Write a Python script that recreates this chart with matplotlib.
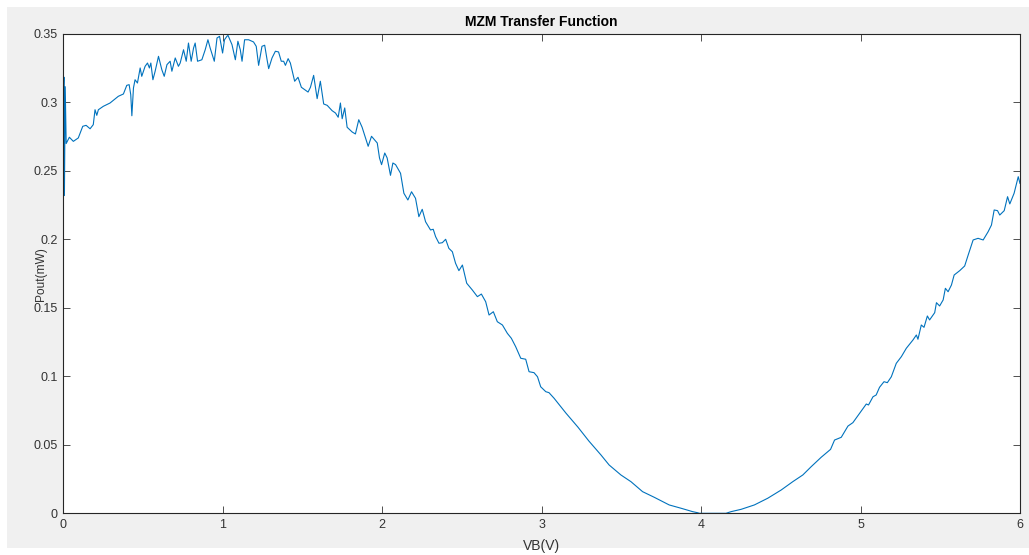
import matplotlib
matplotlib.use("Agg")
import matplotlib.pyplot as plt
from matplotlib.patches import Rectangle

# --- Measured MZM transfer curve: bias voltage (V) vs optical output (mW) ---
vb = [
    0.000, 0.004, 0.007, 0.012, 0.018, 0.025, 0.038, 0.063, 0.094, 0.122,
    0.143, 0.168, 0.188, 0.199, 0.210, 0.220, 0.251, 0.293, 0.345, 0.377,
    0.398, 0.413, 0.423, 0.430, 0.440, 0.450, 0.465, 0.482, 0.492, 0.513,
    0.528, 0.540, 0.549, 0.562, 0.576, 0.597, 0.618, 0.633, 0.650, 0.670,
    0.681, 0.702, 0.722, 0.733, 0.754, 0.771, 0.785, 0.802, 0.817, 0.827,
    0.842, 0.869, 0.890, 0.907, 0.921, 0.947, 0.964, 0.980, 0.999, 1.011,
    1.026, 1.033, 1.058, 1.079, 1.095, 1.110, 1.121, 1.137, 1.162, 1.193,
    1.210, 1.225, 1.246, 1.263, 1.278, 1.288, 1.309, 1.330, 1.350, 1.367,
    1.382, 1.393, 1.410, 1.424, 1.451, 1.472, 1.493, 1.535, 1.550, 1.570,
    1.592, 1.612, 1.633, 1.655, 1.686, 1.707, 1.724, 1.738, 1.749, 1.765,
    1.780, 1.812, 1.832, 1.853, 1.874, 1.895, 1.912, 1.933, 1.969, 1.983,
    1.996, 2.016, 2.031, 2.052, 2.067, 2.084, 2.115, 2.136, 2.161, 2.184,
    2.209, 2.230, 2.251, 2.272, 2.303, 2.320, 2.335, 2.356, 2.377, 2.398,
    2.418, 2.440, 2.460, 2.481, 2.503, 2.530, 2.565, 2.597, 2.622, 2.649,
    2.670, 2.697, 2.722, 2.754, 2.785, 2.810, 2.837, 2.869, 2.900, 2.921,
    2.952, 2.974, 2.994, 3.026, 3.046, 3.078, 3.152, 3.227, 3.296, 3.372,
    3.423, 3.497, 3.560, 3.633, 3.706, 3.800, 3.874, 3.947, 3.979, 3.989,
    4.156, 4.188, 4.251, 4.334, 4.418, 4.502, 4.575, 4.638, 4.690, 4.753,
    4.812, 4.837, 4.879, 4.921, 4.952, 4.994, 5.036, 5.050, 5.078, 5.098,
    5.119, 5.147, 5.168, 5.193, 5.224, 5.256, 5.287, 5.329, 5.350, 5.360,
    5.381, 5.398, 5.419, 5.433, 5.465, 5.476, 5.496, 5.518, 5.532, 5.549,
    5.570, 5.587, 5.622, 5.653, 5.675, 5.706, 5.737, 5.769, 5.800, 5.821,
    5.838, 5.859, 5.873, 5.901, 5.922, 5.936, 5.963, 5.989, 6.000,
]
pout = [
    0.3000, 0.3185, 0.2320, 0.3115, 0.2700, 0.2716, 0.2746, 0.2716, 0.2741, 0.2826,
    0.2833, 0.2808, 0.2838, 0.2947, 0.2906, 0.2947, 0.2972, 0.2996, 0.3045, 0.3062,
    0.3125, 0.3130, 0.3057, 0.2903, 0.3106, 0.3166, 0.3142, 0.3252, 0.3191, 0.3264,
    0.3288, 0.3252, 0.3288, 0.3166, 0.3228, 0.3337, 0.3239, 0.3191, 0.3276, 0.3301,
    0.3228, 0.3325, 0.3264, 0.3288, 0.3385, 0.3301, 0.3434, 0.3301, 0.3398, 0.3434,
    0.3301, 0.3312, 0.3385, 0.3458, 0.3398, 0.3301, 0.3471, 0.3483, 0.3361, 0.3458,
    0.3483, 0.3490, 0.3422, 0.3312, 0.3447, 0.3385, 0.3301, 0.3458, 0.3458, 0.3442,
    0.3410, 0.3271, 0.3410, 0.3418, 0.3312, 0.3247, 0.3325, 0.3374, 0.3369, 0.3301,
    0.3301, 0.3271, 0.3320, 0.3288, 0.3155, 0.3184, 0.3111, 0.3076, 0.3111, 0.3198,
    0.3028, 0.3155, 0.2989, 0.2979, 0.2940, 0.2923, 0.2892, 0.2996, 0.2881, 0.2960,
    0.2819, 0.2784, 0.2770, 0.2874, 0.2819, 0.2741, 0.2680, 0.2753, 0.2704, 0.2595,
    0.2546, 0.2631, 0.2595, 0.2468, 0.2558, 0.2546, 0.2483, 0.2337, 0.2288, 0.2348,
    0.2300, 0.2166, 0.2220, 0.2129, 0.2069, 0.2074, 0.2020, 0.1972, 0.1976, 0.2001,
    0.1935, 0.1910, 0.1826, 0.1772, 0.1813, 0.1680, 0.1631, 0.1582, 0.1601, 0.1545,
    0.1448, 0.1472, 0.1399, 0.1375, 0.1314, 0.1278, 0.1217, 0.1132, 0.1125, 0.1034,
    0.1027, 0.0997, 0.0924, 0.0888, 0.0881, 0.0840, 0.0732, 0.0630, 0.0528, 0.0426,
    0.0353, 0.0280, 0.0231, 0.0158, 0.0117, 0.0061, 0.0037, 0.0012, 0.0004, 0.0000,
    0.0000, 0.0012, 0.0029, 0.0061, 0.0110, 0.0170, 0.0231, 0.0280, 0.0340, 0.0409,
    0.0467, 0.0535, 0.0555, 0.0637, 0.0662, 0.0730, 0.0798, 0.0791, 0.0851, 0.0864,
    0.0920, 0.0961, 0.0954, 0.0997, 0.1095, 0.1144, 0.1205, 0.1266, 0.1302, 0.1271,
    0.1375, 0.1358, 0.1441, 0.1412, 0.1465, 0.1538, 0.1514, 0.1558, 0.1643, 0.1618,
    0.1667, 0.1740, 0.1772, 0.1806, 0.1886, 0.1996, 0.2008, 0.1996, 0.2056, 0.2105,
    0.2215, 0.2210, 0.2178, 0.2210, 0.2312, 0.2259, 0.2337, 0.2458, 0.2409,
]

x_ticks = [0, 1, 2, 3, 4, 5, 6]
y_ticks = [0, 0.05, 0.1, 0.15, 0.2, 0.25, 0.3, 0.35]
y_tick_labels = ['0', '0.05', '0.1', '0.15', '0.2', '0.25', '0.3', '0.35']

plt.rcParams['font.family'] = ['Liberation Sans', 'DejaVu Sans']

fig = plt.figure(figsize=(10.29, 5.55), dpi=100, facecolor='white')
# grey window background with a thin white margin
fig.patches.append(Rectangle((7 / 1029, 7 / 555), 1 - 7 / 1029, 1 - 14 / 555,
                             transform=fig.transFigure, facecolor='#f0f0f0',
                             edgecolor='none', zorder=-10))

ax = fig.add_axes([63.3 / 1029, 1 - 513.3 / 555, (1020 - 63.3) / 1029, (513.3 - 34) / 555])
ax.set_facecolor('white')
ax.plot(vb, pout, color='#0072BD', linewidth=0.8)

ax.set_xlim(0, 6)
ax.set_ylim(0, 0.35)
ax.set_xticks(x_ticks)
ax.set_yticks(y_ticks)
ax.set_yticklabels(y_tick_labels)

ax.tick_params(direction='in', length=5, width=0.6, colors='#333333',
               labelsize=9, top=True, right=True, pad=4)
for s in ax.spines.values():
    s.set_color('#262626')
    s.set_linewidth(0.8)

ax.set_title('MZM Transfer Function', fontsize=10, fontweight='bold', pad=6)
ax.set_xlabel('VB(V)', fontsize=10, color='#333333', labelpad=6)
# the y label sits between the 0.15 and 0.2 tick labels
ax.set_ylabel('Pout(mW)', fontsize=8.6, color='#333333')
ax.yaxis.set_label_coords(-0.0175, 0.500)

fig.savefig('out.png', dpi=100, facecolor=fig.get_facecolor())
